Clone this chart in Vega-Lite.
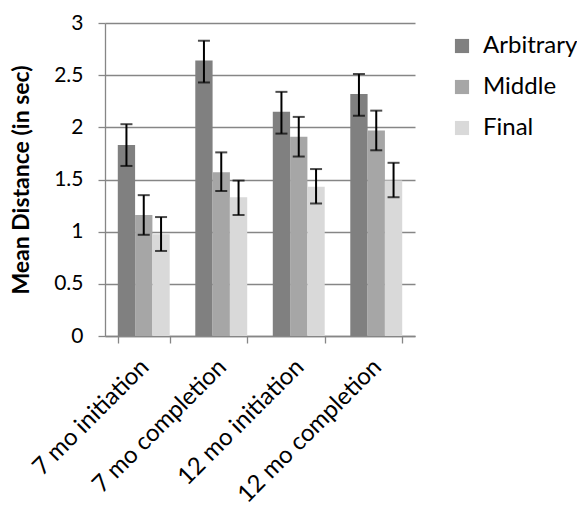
{
  "$schema": "https://vega.github.io/schema/vega-lite/v6.json",
  "width": 310,
  "height": 313,
  "autosize": "none",
  "padding": {"left": 105, "top": 23, "right": 162, "bottom": 170},
  "background": "white",
  "config": {
    "view": {"stroke": null},
    "font": "Lato",
    "axis": {"labelFont": "Lato", "titleFont": "Lato", "labelColor": "#000000", "titleColor": "#000000"}
  },
  "data": {
    "values": [
      {"cat": "7 mo initiation", "series": "Arbitrary", "value": 1.83, "lo": 1.63, "hi": 2.03},
      {"cat": "7 mo initiation", "series": "Middle", "value": 1.16, "lo": 0.97, "hi": 1.35},
      {"cat": "7 mo initiation", "series": "Final", "value": 0.975, "lo": 0.815, "hi": 1.14},
      {"cat": "7 mo completion", "series": "Arbitrary", "value": 2.64, "lo": 2.43, "hi": 2.83},
      {"cat": "7 mo completion", "series": "Middle", "value": 1.57, "lo": 1.39, "hi": 1.76},
      {"cat": "7 mo completion", "series": "Final", "value": 1.33, "lo": 1.16, "hi": 1.49},
      {"cat": "12 mo initiation", "series": "Arbitrary", "value": 2.15, "lo": 1.94, "hi": 2.34},
      {"cat": "12 mo initiation", "series": "Middle", "value": 1.91, "lo": 1.72, "hi": 2.1},
      {"cat": "12 mo initiation", "series": "Final", "value": 1.43, "lo": 1.27, "hi": 1.6},
      {"cat": "12 mo completion", "series": "Arbitrary", "value": 2.32, "lo": 2.11, "hi": 2.51},
      {"cat": "12 mo completion", "series": "Middle", "value": 1.97, "lo": 1.78, "hi": 2.16},
      {"cat": "12 mo completion", "series": "Final", "value": 1.49, "lo": 1.33, "hi": 1.66}
    ]
  },
  "encoding": {
    "x": {
      "field": "cat",
      "type": "nominal",
      "sort": ["7 mo initiation", "7 mo completion", "12 mo initiation", "12 mo completion"],
      "scale": {"paddingInner": 0.33, "paddingOuter": 0.165},
      "axis": {
        "title": null,
        "labelAngle": -45,
        "labelAlign": "right",
        "labelBaseline": "middle",
        "labelFontSize": 24,
        "labelPadding": 20,
        "labelOffset": 1,
        "labelOverlap": false,
        "labelLimit": 300,
        "tickBand": "extent",
        "tickSize": 7,
        "tickColor": "#868686",
        "domainColor": "#868686",
        "domainWidth": 1.3,
        "tickWidth": 1.3,
        "grid": false
      }
    },
    "xOffset": {
      "field": "series",
      "type": "nominal",
      "sort": ["Arbitrary", "Middle", "Final"],
      "scale": {"paddingInner": 0, "paddingOuter": 0}
    }
  },
  "layer": [
    {
      "mark": {"type": "bar"},
      "encoding": {
        "y": {
          "field": "value",
          "type": "quantitative",
          "scale": {"domain": [0, 3], "nice": false},
          "axis": {
            "title": "Mean Distance (in sec)",
            "titleFontSize": 23,
            "titleFontWeight": "bold",
            "titlePadding": 20,
            "labelFontSize": 21,
            "labelPadding": 15,
            "labelOverlap": false,
            "values": [0, 0.5, 1, 1.5, 2, 2.5, 3],
            "format": ".1~f",
            "tickSize": 7,
            "tickColor": "#868686",
            "domainColor": "#868686",
            "domainWidth": 1.3,
            "tickWidth": 1.3,
            "grid": true,
            "gridColor": "#868686",
            "gridWidth": 1.3
          }
        },
        "color": {
          "field": "series",
          "type": "nominal",
          "sort": ["Arbitrary", "Middle", "Final"],
          "scale": {"domain": ["Arbitrary", "Middle", "Final"], "range": ["#808080", "#a6a6a6", "#d9d9d9"]},
          "legend": {
            "title": null,
            "orient": "none",
            "legendX": 345,
            "legendY": 11,
            "symbolType": "square",
            "symbolSize": 200,
            "symbolStrokeWidth": 0,
            "labelFontSize": 24,
            "labelFont": "Lato",
            "labelColor": "#000000",
            "rowPadding": 17,
            "labelOffset": 9,
            "labelLimit": 200
          }
        }
      }
    },
    {
      "mark": {"type": "rule", "color": "black", "strokeWidth": 2},
      "encoding": {
        "y": {"field": "lo", "type": "quantitative"},
        "y2": {"field": "hi"}
      }
    },
    {
      "mark": {"type": "tick", "color": "black", "thickness": 2, "size": 12},
      "encoding": {
        "y": {"field": "lo", "type": "quantitative"}
      }
    },
    {
      "mark": {"type": "tick", "color": "black", "thickness": 2, "size": 12},
      "encoding": {
        "y": {"field": "hi", "type": "quantitative"}
      }
    }
  ]
}
